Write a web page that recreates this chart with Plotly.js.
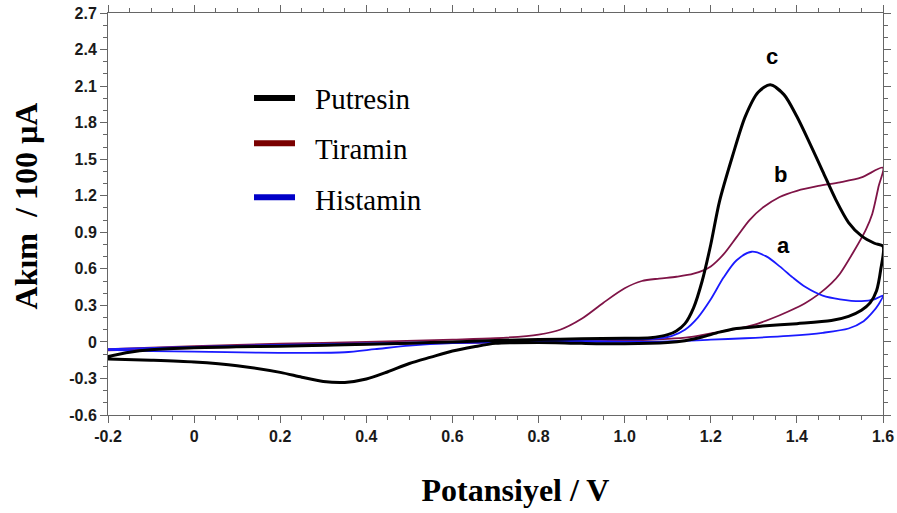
<!DOCTYPE html>
<html>
<head>
<meta charset="utf-8">
<script src="https://cdn.plot.ly/plotly-3.0.1.min.js"></script>
<style>html,body{margin:0;padding:0;background:#fff;}#chart{width:897px;height:513px;}</style>
</head>
<body>
<div id="chart"></div>
<script>
// ---- Data (potential in V, current in units of 100 µA) ----
const seriesNames = ["Putresin", "Tiramin", "Histamin"];
const peakLabels = ["c", "b", "a"];

// Putresin: forward scan then reverse scan
const putresinX = [-0.2,-0.15,-0.1,0.0,0.1,0.2,0.3,0.4,0.5,0.6,0.7,0.8,0.9,1.0,1.06,1.1,1.12,1.14,1.16,1.18,1.2,1.22,1.25,1.28,1.31,1.338,1.37,1.4,1.43,1.46,1.49,1.52,1.55,1.58,1.6,
  1.595,1.585,1.57,1.55,1.52,1.48,1.4,1.32,1.26,1.22,1.18,1.14,1.1,1.0,0.9,0.8,0.7,0.65,0.6,0.55,0.5,0.45,0.4,0.35,0.3,0.25,0.2,0.1,0.0,-0.1,-0.2];
const putresinY = [-0.12,-0.085,-0.065,-0.048,-0.04,-0.035,-0.028,-0.02,-0.01,0.0,0.012,0.02,0.025,0.03,0.035,0.06,0.09,0.15,0.28,0.5,0.8,1.15,1.52,1.85,2.05,2.11,2.03,1.85,1.63,1.4,1.17,0.98,0.87,0.81,0.785,
  0.6,0.42,0.32,0.26,0.21,0.175,0.15,0.13,0.11,0.08,0.04,0.01,-0.005,-0.015,-0.012,-0.005,-0.012,-0.04,-0.075,-0.125,-0.177,-0.245,-0.305,-0.333,-0.325,-0.29,-0.25,-0.195,-0.165,-0.15,-0.14];

// Tiramin
const tiraminX = [-0.2,0.0,0.2,0.4,0.6,0.7,0.8,0.85,0.9,0.95,1.0,1.04,1.08,1.12,1.16,1.2,1.23,1.26,1.29,1.32,1.36,1.4,1.45,1.5,1.55,1.6,
  1.59,1.575,1.56,1.53,1.5,1.48,1.45,1.42,1.38,1.34,1.3,1.25,1.2,1.15,1.1,1.0,0.8,0.6,0.4,0.2,0.0,-0.2];
const tiraminY = [-0.06,-0.035,-0.015,0.0,0.018,0.03,0.06,0.1,0.19,0.32,0.44,0.5,0.52,0.535,0.56,0.62,0.72,0.86,1.0,1.1,1.19,1.24,1.28,1.31,1.35,1.43,
  1.28,1.05,0.92,0.73,0.56,0.48,0.39,0.32,0.25,0.19,0.14,0.1,0.07,0.04,0.025,0.01,0.0,-0.01,-0.02,-0.035,-0.05,-0.07];

// Histamin
const histaminX = [-0.2,0.0,0.2,0.4,0.6,0.8,1.0,1.08,1.11,1.14,1.17,1.2,1.23,1.26,1.295,1.33,1.36,1.39,1.42,1.46,1.5,1.55,1.58,1.6,
  1.59,1.575,1.555,1.52,1.46,1.38,1.28,1.2,1.1,0.9,0.7,0.6,0.5,0.42,0.35,0.25,0.15,0.0,-0.1,-0.2];
const histaminY = [-0.06,-0.04,-0.025,-0.012,0.0,0.012,0.02,0.03,0.05,0.1,0.2,0.35,0.53,0.67,0.74,0.7,0.62,0.53,0.45,0.38,0.35,0.335,0.35,0.38,
  0.31,0.24,0.17,0.11,0.075,0.05,0.03,0.018,0.005,0.0,-0.005,-0.01,-0.03,-0.06,-0.085,-0.09,-0.088,-0.08,-0.075,-0.065];

// Peak label positions (data coords)
const peakLabelX = [1.342, 1.361, 1.370];
const peakLabelY = [2.346, 1.376, 0.793];

// Axis ticks
const xTickVals = [-0.2,0,0.2,0.4,0.6,0.8,1.0,1.2,1.4,1.6];
const xTickText = ["-0.2","0","0.2","0.4","0.6","0.8","1.0","1.2","1.4","1.6"];
const yTickVals = [-0.6,-0.3,0,0.3,0.6,0.9,1.2,1.5,1.8,2.1,2.4,2.7];
const yTickText = ["-0.6","-0.3","0","0.3","0.6","0.9","1.2","1.5","1.8","2.1","2.4","2.7"];

// ---- Styles ----
const lineColors = ["#000000", "#7f1447", "#1a1aff"];
const legendColors = ["#000000", "#7a0000", "#0000c8"];
const lineWidths = [3, 1.8, 1.8];

const traces = [
  {x: tiraminX, y: tiraminY, name: seriesNames[1], idx: 1},
  {x: histaminX, y: histaminY, name: seriesNames[2], idx: 2},
  {x: putresinX, y: putresinY, name: seriesNames[0], idx: 0}
].map(t => ({
  x: t.x, y: t.y, name: t.name, type: 'scatter', mode: 'lines',
  line: {color: lineColors[t.idx], width: lineWidths[t.idx], shape: 'spline', smoothing: 0.8},
  showlegend: false, hoverinfo: 'skip'
}));

// manual legend positions (paper coords)
const legLineY = [0.7886, 0.6759, 0.5415];
const legTextY = [0.786, 0.662, 0.534];
const shapes = legLineY.map((yy, i) => ({
  type: 'line', xref: 'paper', yref: 'paper', x0: 0.1884, x1: 0.2413, y0: yy, y1: yy,
  line: {color: legendColors[i], width: 6}
}));
const annotations = [];
seriesNames.forEach((n, i) => annotations.push({
  xref: 'paper', yref: 'paper', x: 0.2645, y: legTextY[i], xanchor: 'left', yanchor: 'middle',
  text: n, showarrow: false, font: {family: 'Liberation Serif, Times New Roman, serif', size: 29, color: '#000'}
}));
peakLabels.forEach((lab, i) => annotations.push({
  x: peakLabelX[i], y: peakLabelY[i], xref: 'x', yref: 'y', text: lab, showarrow: false,
  xanchor: 'center', yanchor: 'middle',
  font: {family: 'Liberation Sans, Arial, sans-serif', size: 22, color: '#000', weight: 700}
}));

const axisCommon = {
  showline: true, linecolor: '#666', linewidth: 1, mirror: 'ticks',
  ticks: 'outside', ticklen: 7, tickwidth: 1, tickcolor: '#666',
  showgrid: false, zeroline: false,
  tickfont: {family: 'Liberation Sans, Arial, sans-serif', size: 16, color: '#1a1a1a', weight: 700},
  tickmode: 'array'
};

const layout = {
  width: 897, height: 513,
  margin: {l: 108, r: 14, t: 13, b: 98},
  paper_bgcolor: '#fff', plot_bgcolor: '#fff',
  showlegend: false,
  xaxis: Object.assign({}, axisCommon, {
    range: [-0.2, 1.6], tickvals: xTickVals, ticktext: xTickText,
    minor: {dtick: 0.05, tick0: 0, ticks: 'outside', ticklen: 4, tickcolor: '#666', showgrid: false},
    title: {text: '&nbsp;&nbsp;&nbsp;&nbsp;&nbsp;Potansiyel / V', standoff: 34,
      font: {family: 'Liberation Serif, Times New Roman, serif', size: 32, color: '#000', weight: 700}}
  }),
  yaxis: Object.assign({}, axisCommon, {
    range: [-0.6, 2.7], tickvals: yTickVals, ticktext: yTickText,
    minor: {dtick: 0.1, tick0: 0, ticks: 'outside', ticklen: 4, tickcolor: '#666', showgrid: false},
    title: {text: '&nbsp;&nbsp;Akım  / 100 µA', standoff: 22,
      font: {family: 'Liberation Serif, Times New Roman, serif', size: 32, color: '#000', weight: 700}}
  }),
  shapes: shapes,
  annotations: annotations
};

Plotly.newPlot('chart', traces, layout, {displayModeBar: false, staticPlot: true});
</script>
</body>
</html>
